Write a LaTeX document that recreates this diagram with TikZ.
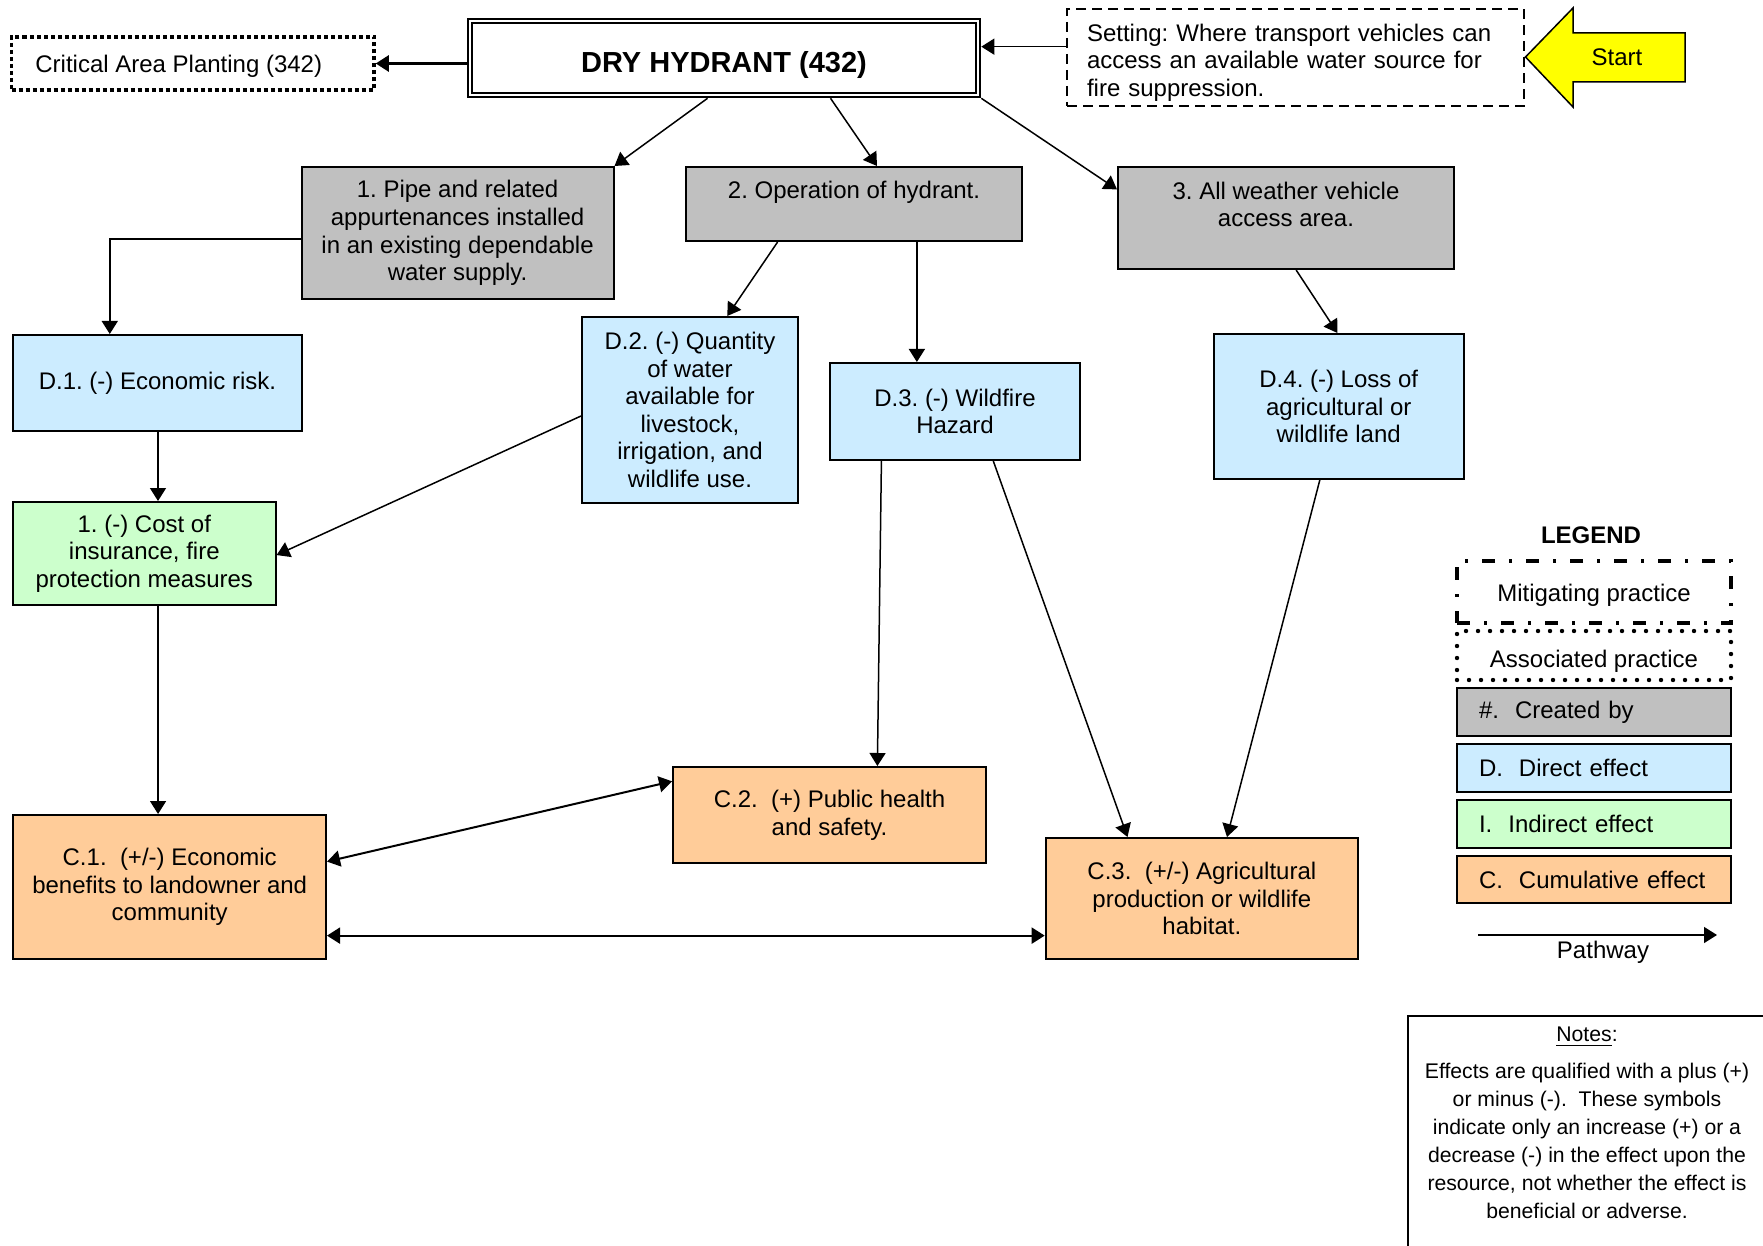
\documentclass[tikz,border=0pt]{standalone}
\usepackage{fontspec}
\setmainfont{Liberation Sans}
\usetikzlibrary{arrows.meta,calc}
\frenchspacing

\definecolor{cgray}{HTML}{C0C0C0}
\definecolor{cblue}{HTML}{CCECFF}
\definecolor{cgreen}{HTML}{CCFFCC}
\definecolor{corange}{HTML}{FFCC99}
\definecolor{cyellow}{HTML}{FFFF00}

\newcommand{\bodyfont}{\fontsize{12pt}{13.8pt}\selectfont}
\newcommand{\titlefont}{\fontsize{14.5pt}{16pt}\selectfont\bfseries}
\newcommand{\notefont}{\fontsize{10.6pt}{14pt}\selectfont}

\begin{document}
\begin{tikzpicture}[x=0.5pt,y=-0.5pt,
  base/.style={draw=black, line width=1pt, font=\bodyfont, align=center, inner sep=0pt},
  graybox/.style={base, fill=cgray},
  bluebox/.style={base, fill=cblue},
  greenbox/.style={base, fill=cgreen},
  orangebox/.style={base, fill=corange},
  associated/.style={draw=black, line width=1.75pt, dash pattern=on 2pt off 1.5pt,
    font=\bodyfont, inner sep=0pt},
  settingbox/.style={draw=black, line width=0.75pt, dash pattern=on 5pt off 3pt,
    font=\bodyfont, align=left, inner xsep=10pt, inner ysep=0pt},
  legmitig/.style={draw=black, line width=2pt,
    dash pattern=on 6.5pt off 7pt on 1.5pt off 7pt, font=\bodyfont, inner sep=0pt,
    minimum width=137pt, text height=9.2pt, text depth=0pt},
  legassoc/.style={draw=black, line width=2.2pt, line cap=round,
    dash pattern=on 0pt off 6pt, font=\bodyfont, inner sep=0pt, minimum width=137pt,
    text height=12.1pt, text depth=0pt},
  legentry/.style={minimum width=137pt, text width=115pt, align=left,
    inner xsep=11pt, inner ysep=0pt},
  tip/.tip={Triangle[length=6.5pt,width=8pt]},
  arr/.style={-tip, line width=0.75pt},
  darr/.style={tip-tip, line width=1pt}
]
\useasboundingbox (0,0) rectangle (1763,1246);
\clip (0,0) rectangle (1763,1246);

% ---------- top row ----------
\node[associated, minimum width=181.25pt, minimum height=26.5pt,
  text height=9.1pt, text depth=0pt] (crit)
  at (192.75,63.5) {Critical Area Planting (342)\rule{14pt}{0pt}};

\node[draw=black, line width=1.1pt, double=white, double distance=1.1pt,
  outer sep=1.65pt, minimum width=254pt, minimum height=37pt, inner sep=0pt,
  text height=14.4pt, text depth=0pt,
  font=\titlefont] (dry) at (724,58) {DRY HYDRANT (432)};

\node[settingbox, text width=208.5pt, minimum height=48.5pt] (set) at (1295.5,57.5)
  {\rule{0pt}{13.8pt}Setting: Where transport vehicles can\\access an available water source for\\fire suppression.};

% start arrow
\draw[fill=cyellow, line width=0.75pt, line join=miter]
  (1525.5,57) -- (1573,8) -- (1573,33) -- (1685,33) -- (1685,82)
  -- (1573,82) -- (1573,107) -- cycle;
\node[font=\bodyfont] (start) at (1617,57) {Start};

% ---------- created-by boxes ----------
\node[graybox, minimum width=155.9pt, minimum height=66pt] (b1) at (457.6,233)
  {1. Pipe and related\\appurtenances installed\\in an existing dependable\\water supply.};
\node[graybox, minimum width=168pt, minimum height=37pt] (b2) at (854,204)
  {2. Operation of hydrant.\\\mbox{}};
\node[graybox, minimum width=168pt, minimum height=51pt] (b3) at (1286,218)
  {3. All weather vehicle\\access area.\\\mbox{}};

% ---------- direct effects ----------
\node[bluebox, minimum width=144.5pt, minimum height=48pt] (d1) at (157.5,383)
  {D.1. (-) Economic risk.};
\node[bluebox, minimum width=108pt, minimum height=93pt] (d2) at (690,410)
  {D.2. (-) Quantity\\of water\\available for\\livestock,\\irrigation, and\\wildlife use.};
\node[bluebox, minimum width=125pt, minimum height=48.5pt] (d3) at (955,411.5)
  {D.3. (-) Wildfire\\Hazard};
\node[bluebox, minimum width=125.25pt, minimum height=72.5pt] (d4) at (1338.75,406.5)
  {D.4. (-) Loss of\\agricultural or\\wildlife land};

% ---------- indirect effect ----------
\node[greenbox, minimum width=131.3pt, minimum height=51.5pt] (i1) at (144.3,553.5)
  {1. (-) Cost of\\insurance, fire\\protection measures};

% ---------- cumulative effects ----------
\node[orangebox, minimum width=156.3pt, minimum height=72pt] (c1) at (169.7,887)
  {C.1.~~(+/-) Economic\\benefits to landowner and\\community};
\node[orangebox, minimum width=156.5pt, minimum height=48pt] (c2) at (829.5,815)
  {C.2.~~(+) Public health\\and safety.};
\node[orangebox, minimum width=156.15pt, minimum height=60.5pt] (c3) at (1201.85,898.5)
  {C.3.~~(+/-) Agricultural\\production or wildlife\\habitat.};

% ---------- pathways ----------
\draw[arr, line width=1.3pt] (dry.west |- crit.east) -- (crit.east);
\draw[arr] ($(set.north west)!0.39!(set.south west)$) coordinate (sa) -- (sa -| dry.east);
\draw[arr] ($(dry.south west)!0.468!(dry.south east)$) -- (b1.north east);
\draw[arr] ($(dry.south west)!0.707!(dry.south east)$) -- ($(b2.north west)!0.568!(b2.north east)$);
\draw[arr] (dry.south east) -- ($(b3.north west)!0.225!(b3.south west)$);
\draw[arr] ($(b1.north west)!0.545!(b1.south west)$) -| ($(d1.north west)!0.336!(d1.north east)$);
\draw[arr] ($(b2.south west)!0.274!(b2.south east)$) -- ($(d2.north west)!0.671!(d2.north east)$);
\draw[arr] ($(b2.south west)!0.686!(b2.south east)$) coordinate (bx) -- (bx |- d3.north);
\draw[arr] ($(b3.south west)!0.530!(b3.south east)$) -- ($(d4.north west)!0.495!(d4.north east)$);
\draw[arr] ([xshift=0.25pt]d1.south) coordinate (dx) -- (dx |- i1.north);
\draw[arr] ($(d2.north west)!0.532!(d2.south west)$) -- ($(i1.north east)!0.515!(i1.south east)$);
\draw[arr] ($(i1.south west)!0.552!(i1.south east)$) coordinate (ix) -- (ix |- c1.north);
\draw[arr] ($(d3.south west)!0.208!(d3.south east)$) -- ($(c2.north west)!0.652!(c2.north east)$);
\draw[arr] ($(d3.south west)!0.652!(d3.south east)$) -- ($(c3.north west)!0.2635!(c3.north east)$);
\draw[arr] ($(d4.south west)!0.425!(d4.south east)$) -- ($(c3.north west)!0.58!(c3.north east)$);
\draw[darr] ($(c1.north east)!0.326!(c1.south east)$) -- ($(c2.north west)!0.156!(c2.south west)$);
\draw[darr] ($(c1.north east)!0.833!(c1.south east)$) coordinate (cy) -- (cy -| c3.west);

% ---------- legend ----------
\node[font=\bodyfont\bfseries] (legtitle) at (1591,535) {LEGEND};
\node[legmitig, minimum height=31pt] (lmit) at (1594,592) {Mitigating practice};
\node[legassoc, minimum height=24.5pt] (lasc) at (1594,655.5) {Associated practice};
\node[graybox, legentry, minimum height=24pt] (lcre) at (1594,712) {\#.~~Created by};
\node[bluebox, legentry, minimum height=24pt] (ldir) at (1594,768) {D.~~Direct effect};
\node[greenbox, legentry, minimum height=24pt] (lind) at (1594,824) {I.~~Indirect effect};
\node[orangebox, legentry, minimum height=23.5pt] (lcum) at (1594,879.5) {C.~~Cumulative effect};
\coordinate (pwa) at (1478,935);
\coordinate (pwb) at (1717,935);
\draw[arr] (pwa) -- (pwb);
\node[font=\bodyfont] (pwlabel) at (1603,952) {Pathway};

% ---------- notes ----------
\node[draw=black, line width=1pt, anchor=north west, minimum width=200pt,
  minimum height=150pt, inner sep=0pt] (notes) at (1407,1015) {};
\node[font=\notefont, align=center, anchor=north, inner sep=0pt] (notestext) at (1587,1027)
  {\underline{Notes}:\\[4.5pt]
   Effects are qualified with a plus (+)\\
   or minus (-).\ \ These symbols\\
   indicate only an increase (+) or a\\
   decrease (-) in the effect upon the\\
   resource, not whether the effect is\\
   beneficial or adverse.};
\end{tikzpicture}
\end{document}
